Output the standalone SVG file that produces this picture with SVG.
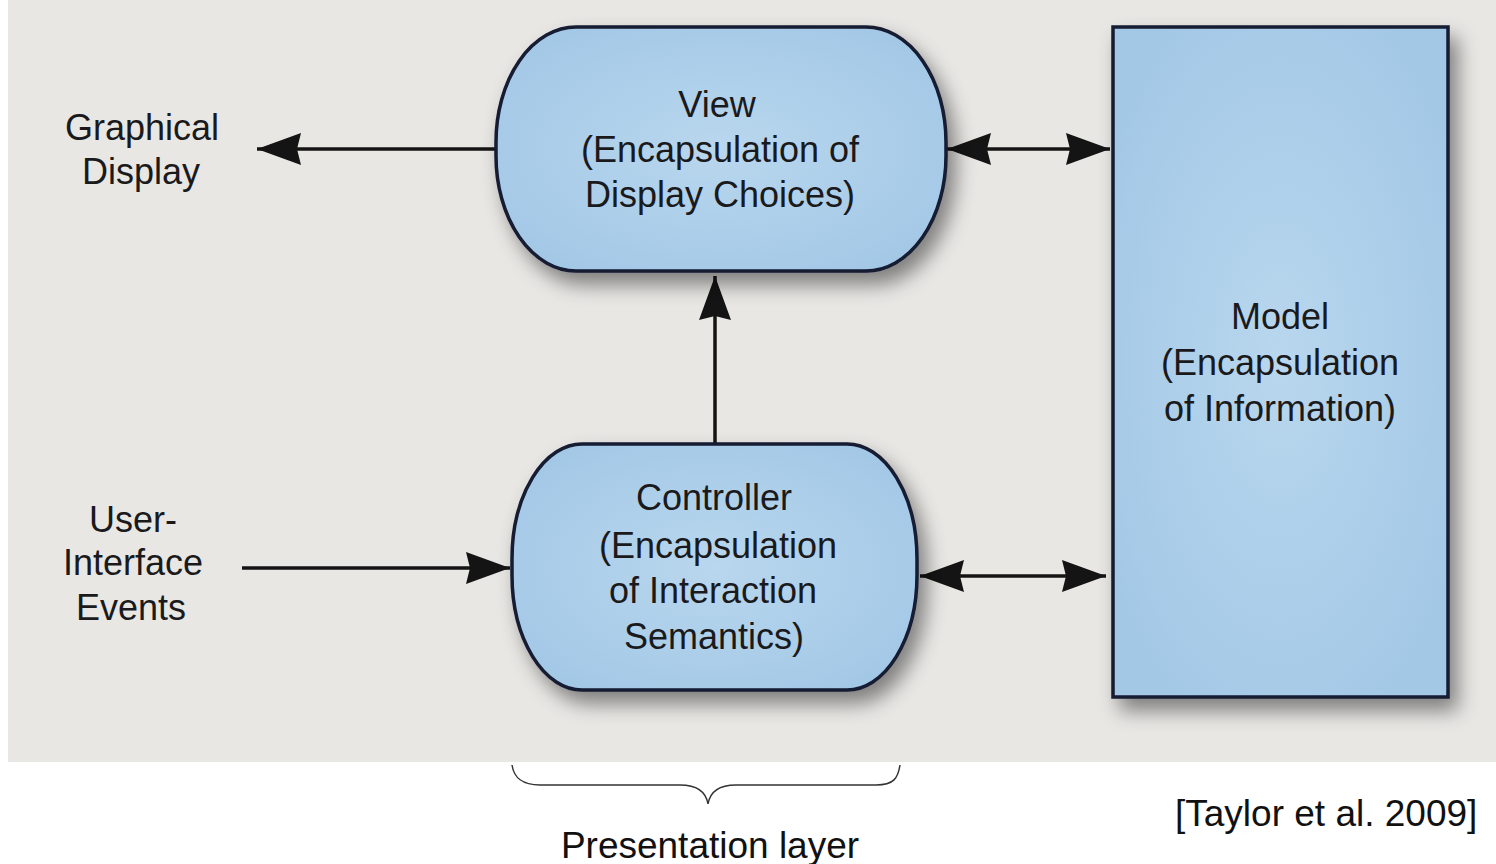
<svg xmlns="http://www.w3.org/2000/svg" width="1496" height="864" viewBox="0 0 1496 864">
<defs>
<style>
.t{font-family:"Liberation Sans",Arial,sans-serif;font-size:36px;fill:#1a1a1c;text-anchor:middle}
.c{font-family:"Liberation Sans",Arial,sans-serif;font-size:37px;fill:#111;text-anchor:middle}
.node{fill:url(#blue);stroke:#151a33;stroke-width:3.5}
.ln{stroke:#141414;stroke-width:3.5;fill:none}
</style>
<radialGradient id="blue" cx="0.5" cy="0.5" r="0.6">
<stop offset="0" stop-color="#b9d7ee"/>
<stop offset="1" stop-color="#a3c8e6"/>
</radialGradient>
<filter id="sh" x="-20%" y="-20%" width="150%" height="150%">
<feDropShadow dx="8" dy="12" stdDeviation="10" flood-color="#000" flood-opacity="0.45"/>
</filter>
<marker id="big" viewBox="0 0 44 32" refX="44" refY="16" markerWidth="44" markerHeight="32" markerUnits="userSpaceOnUse" orient="auto-start-reverse">
<path d="M0,0 L44,16 L0,32 L4,16 Z" fill="#141414"/>
</marker>
</defs>
<rect x="0" y="0" width="1496" height="864" fill="#ffffff"/>
<rect x="8" y="0" width="1488" height="762" fill="#e8e7e4"/>

<g id="connectors">
<line class="ln" x1="497" y1="149" x2="257" y2="149" marker-end="url(#big)"/>
<line class="ln" x1="242" y1="568" x2="510" y2="568" marker-end="url(#big)"/>
<line class="ln" x1="715" y1="444" x2="715" y2="276" marker-end="url(#big)"/>
<line class="ln" x1="947" y1="149" x2="1110" y2="149" marker-start="url(#big)" marker-end="url(#big)"/>
<line class="ln" x1="920" y1="576" x2="1106" y2="576" marker-start="url(#big)" marker-end="url(#big)"/>
</g>

<g id="view">
<rect class="node" x="496" y="27" width="450" height="244" rx="80" ry="115" filter="url(#sh)"/>
<text class="t" x="717" y="117">View</text>
<text class="t" x="720" y="162">(Encapsulation of</text>
<text class="t" x="720" y="207">Display Choices)</text>
</g>

<g id="controller">
<rect class="node" x="512" y="444" width="405" height="246" rx="70" ry="115" filter="url(#sh)"/>
<text class="t" x="714" y="510">Controller</text>
<text class="t" x="718" y="558">(Encapsulation</text>
<text class="t" x="713" y="603">of Interaction</text>
<text class="t" x="714" y="649">Semantics)</text>
</g>

<g id="model">
<rect class="node" x="1113" y="27" width="335" height="670" filter="url(#sh)"/>
<text class="t" x="1280" y="329">Model</text>
<text class="t" x="1280" y="375">(Encapsulation</text>
<text class="t" x="1280" y="421">of Information)</text>
</g>

<g id="graphical-display">
<text class="t" x="142" y="140">Graphical</text>
<text class="t" x="141" y="184">Display</text>
</g>

<g id="ui-events">
<text class="t" x="133" y="532">User-</text>
<text class="t" x="133" y="575">Interface</text>
<text class="t" x="131" y="620">Events</text>
</g>

<g id="presentation-layer">
<path d="M512,765 C514,778 522,785 540,785 L680,785 C698,785 706,792 708,804 C710,792 718,785 736,785 L876,785 C894,785 898,778 900,765" fill="none" stroke="#333" stroke-width="1.5"/>
<text class="c" x="710" y="858">Presentation layer</text>
</g>

<g id="citation">
<text class="c" x="1175" y="826" style="text-anchor:start">[Taylor et al. 2009]</text>
</g>
</svg>
